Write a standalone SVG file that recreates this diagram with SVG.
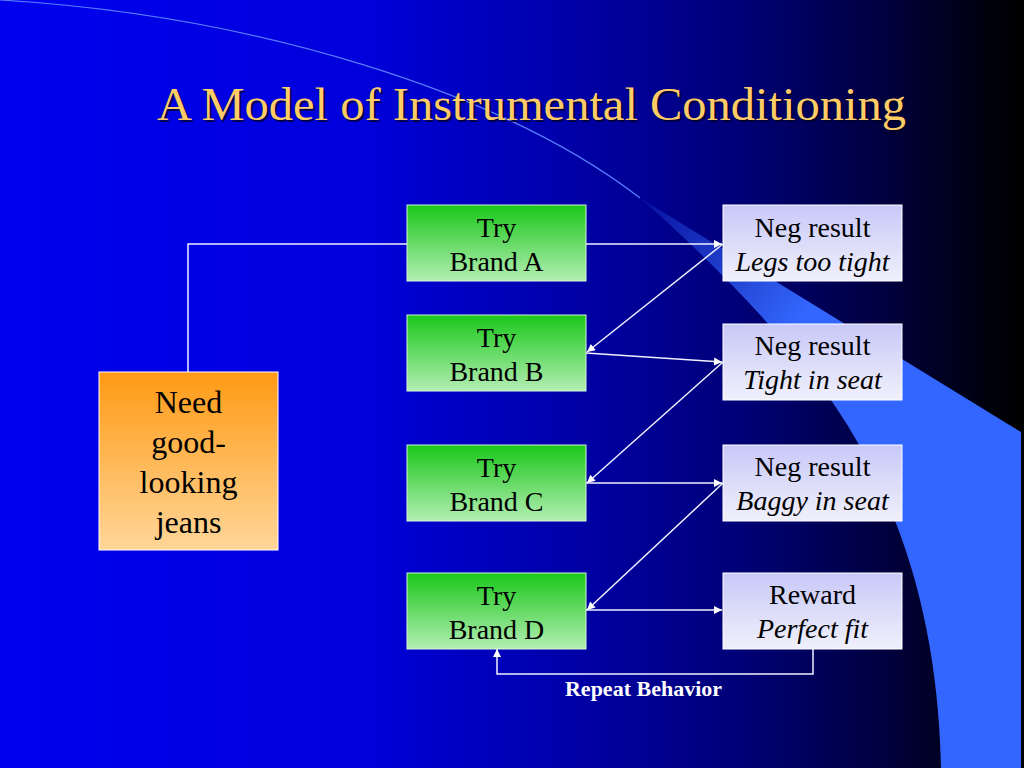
<svg xmlns="http://www.w3.org/2000/svg" width="1024" height="768" viewBox="0 0 1024 768">
  <defs>
    <linearGradient id="bg" x1="0" y1="0" x2="1024" y2="0" gradientUnits="userSpaceOnUse">
      <stop offset="0" stop-color="#0000EE"/>
      <stop offset="0.35" stop-color="#0000DC"/>
      <stop offset="0.55" stop-color="#0000AA"/>
      <stop offset="0.72" stop-color="#000078"/>
      <stop offset="0.86" stop-color="#000040"/>
      <stop offset="0.97" stop-color="#00000A"/>
      <stop offset="1" stop-color="#000000"/>
    </linearGradient>
    <linearGradient id="crescent" x1="640" y1="198" x2="800" y2="318" gradientUnits="userSpaceOnUse">
      <stop offset="0" stop-color="#3366FF" stop-opacity="0.15"/>
      <stop offset="1" stop-color="#3366FF" stop-opacity="1"/>
    </linearGradient>
    <linearGradient id="orange" x1="0" y1="0" x2="0" y2="1">
      <stop offset="0" stop-color="#FF9A14"/>
      <stop offset="1" stop-color="#FFD699"/>
    </linearGradient>
    <linearGradient id="green" x1="0" y1="0" x2="0" y2="1">
      <stop offset="0" stop-color="#1AC81A"/>
      <stop offset="1" stop-color="#B3EEB3"/>
    </linearGradient>
    <linearGradient id="lav" x1="0" y1="0" x2="0" y2="1">
      <stop offset="0" stop-color="#C8C8F8"/>
      <stop offset="1" stop-color="#F0F0FC"/>
    </linearGradient>
    <marker id="arrow" viewBox="0 0 10 10" refX="10" refY="5" markerWidth="10" markerHeight="8" markerUnits="userSpaceOnUse" orient="auto">
      <path d="M0,0 L10,5 L0,10 z" fill="#FFFFFF"/>
    </marker>
    <style>
      .title { font-size: 47px; }
      .lbl { font-size: 28px; fill: #000; text-anchor: middle; }
      .need { font-size: 32px; fill: #000; text-anchor: middle; }
      .it { font-style: italic; }
      .green { fill: url(#green); stroke: #D8F8D8; stroke-width: 1; }
      .lav { fill: url(#lav); stroke: #FFFFFF; stroke-width: 1; }
      .conn { fill: none; stroke: #F0F0FF; stroke-width: 1.5; }
    </style>
  </defs>

  <!-- background -->
  <rect x="0" y="0" width="1024" height="768" fill="url(#bg)"/>
  <path d="M640,198 L1021,432 L1021,768 L941,768 C938,620 900,500 831,400 C780,330 700,250 640,198 Z" fill="url(#crescent)"/>
  <path d="M0,0 C250,15 500,90 640,198" fill="none" stroke="#5A7CFF" stroke-width="1.2"/>

  <g font-family="Liberation Serif, serif">
    <!-- title -->
    <g id="title">
      <text class="title" x="159" y="122" textLength="749" lengthAdjust="spacingAndGlyphs" fill="#000020" opacity="0.75">A Model of Instrumental Conditioning</text>
      <text class="title" x="157" y="120" textLength="749" lengthAdjust="spacingAndGlyphs" fill="#FFCC66">A Model of Instrumental Conditioning</text>
    </g>

    <!-- connectors -->
    <g id="connectors">
      <path class="conn" d="M188,372 V244 H407"/>
      <path class="conn" d="M586,244 H722" marker-end="url(#arrow)"/>
      <path class="conn" d="M723,244 L587,352" marker-end="url(#arrow)"/>
      <path class="conn" d="M586,353 L722,362" marker-end="url(#arrow)"/>
      <path class="conn" d="M723,362 L587,483" marker-end="url(#arrow)"/>
      <path class="conn" d="M586,483 H722" marker-end="url(#arrow)"/>
      <path class="conn" d="M723,483 L587,610" marker-end="url(#arrow)"/>
      <path class="conn" d="M586,610 H722" marker-end="url(#arrow)"/>
      <path class="conn" d="M813,649 V674 H497 V649" marker-end="url(#arrow)"/>
    </g>

    <!-- nodes -->
    <g id="need">
      <rect x="99" y="372" width="179" height="178" fill="url(#orange)" stroke="#FFFFFF" stroke-width="1"/>
      <text class="need" x="188.5" y="413">Need</text>
      <text class="need" x="188.5" y="453">good-</text>
      <text class="need" x="188.5" y="493">looking</text>
      <text class="need" x="188.5" y="533">jeans</text>
    </g>

    <g id="brandA">
      <rect class="green" x="407" y="205" width="179" height="76"/>
      <text class="lbl" x="496.5" y="237">Try</text>
      <text class="lbl" x="496.5" y="271">Brand A</text>
    </g>
    <g id="brandB">
      <rect class="green" x="407" y="315" width="179" height="76"/>
      <text class="lbl" x="496.5" y="347">Try</text>
      <text class="lbl" x="496.5" y="381">Brand B</text>
    </g>
    <g id="brandC">
      <rect class="green" x="407" y="445" width="179" height="76"/>
      <text class="lbl" x="496.5" y="477">Try</text>
      <text class="lbl" x="496.5" y="511">Brand C</text>
    </g>
    <g id="brandD">
      <rect class="green" x="407" y="573" width="179" height="76"/>
      <text class="lbl" x="496.5" y="605">Try</text>
      <text class="lbl" x="496.5" y="639">Brand D</text>
    </g>

    <g id="neg1">
      <rect class="lav" x="723" y="205" width="179" height="76"/>
      <text class="lbl" x="812.5" y="237">Neg result</text>
      <text class="lbl it" x="812.5" y="271">Legs too tight</text>
    </g>
    <g id="neg2">
      <rect class="lav" x="723" y="324" width="179" height="76"/>
      <text class="lbl" x="812.5" y="355">Neg result</text>
      <text class="lbl it" x="812.5" y="389">Tight in seat</text>
    </g>
    <g id="neg3">
      <rect class="lav" x="723" y="445" width="179" height="76"/>
      <text class="lbl" x="812.5" y="476">Neg result</text>
      <text class="lbl it" x="812.5" y="510">Baggy in seat</text>
    </g>
    <g id="reward">
      <rect class="lav" x="723" y="573" width="179" height="76"/>
      <text class="lbl" x="812.5" y="604">Reward</text>
      <text class="lbl it" x="812.5" y="638">Perfect fit</text>
    </g>

    <g id="repeat-label">
      <text x="643.5" y="696" font-size="22" font-weight="bold" fill="#FFFFFF" text-anchor="middle">Repeat Behavior</text>
    </g>
  </g>
</svg>
